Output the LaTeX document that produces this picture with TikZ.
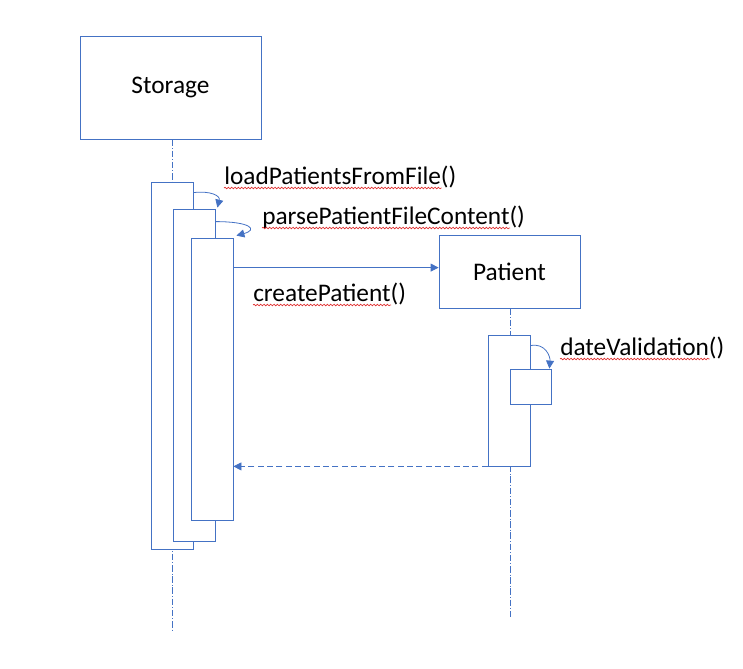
\documentclass[tikz,border=0pt]{standalone}
\usepackage{fontspec}
\setmainfont{Carlito}
\usetikzlibrary{arrows.meta,calc,decorations.pathmorphing}
\definecolor{lineblue}{HTML}{4472C4}
\definecolor{spellred}{HTML}{E03030}
\begin{document}
\begin{tikzpicture}[x=0.75pt,y=-0.75pt,
  objbox/.style={draw=lineblue,line width=0.6pt,fill=white,inner sep=0pt,font=\fontsize{19pt}{22pt}\selectfont},
  actbox/.style={draw=lineblue,line width=0.6pt,fill=white,inner sep=0pt,minimum width=31.5pt},
  lifeline/.style={draw=lineblue,line width=0.6pt,dash pattern=on 5pt off 1.5pt on 0.4pt off 1.5pt},
  msg/.style={draw=lineblue,line width=0.6pt,-{Triangle[length=6pt,width=6pt]}},
  retmsg/.style={msg,dash pattern=on 4.5pt off 2.5pt},
  lbl/.style={anchor=base west,inner sep=0pt,font=\fontsize{19pt}{22pt}\selectfont},
  spell/.style={draw=spellred,line width=0.5pt,decorate,decoration={snake,amplitude=0.6pt,segment length=2.5pt}}]
\useasboundingbox (0,0) rectangle (743,668);
% objects
\node[objbox,minimum width=135.75pt,minimum height=77.25pt] (storage) at (170.5,87.5) {Storage};
\node[objbox,minimum width=105.75pt,minimum height=54.75pt] (patient) at (509.5,271.5) {Patient};
% lifelines
\coordinate (sEnd) at (172,630);
\coordinate (pEnd) at (510,618);
\draw[lifeline] (storage.south -| sEnd) -- (sEnd);
\draw[lifeline] (patient.south -| pEnd) -- (pEnd);
% activations
\node[actbox,minimum height=275.25pt] (act1) at (172,365.5) {};
\node[actbox,minimum height=249pt] (act2) at (194,375) {};
\node[actbox,minimum height=211.5pt] (act3) at (212,379) {};
\node[actbox,minimum height=98.25pt] (actP) at (509,400.5) {};
\node[actbox,minimum width=30.75pt,minimum height=26.25pt] (actP2) at (530.5,386.5) {};
% self calls
\draw[msg] ($(act1.north east)+(0,11)$) .. controls +(17,-2) and +(3,-12) .. ($(act2.north east)+(2,-1)$);
\draw[msg] ($(act2.north east)+(0,13)$) .. controls +(35,0) and +(22,-6) .. ($(act3.north east)+(3,-2)$);
\draw[msg] ($(actP.north east)+(0,11)$) .. controls +(15,-3) and +(1,-12) .. ($(actP2.north east)+(-2,0)$);
% create message
\coordinate (cStart) at ($(act3.north east)+(0,30)$);
\draw[msg] (cStart) -- (cStart -| patient.west);
% return message
\draw[retmsg] (actP.south west) -- (actP.south west -| act3.east);
% labels
\node[lbl] (l1) at (224,184) {loadPatientsFromFile()};
\node[lbl] (l2) at (262,224) {parsePatientFileContent()};
\node[lbl] (l3) at (253,301) {createPatient()};
\node[lbl] (l4) at (560,355) {dateValidation()};
% spell-check underlines
\draw[spell] ($(l1.base west)+(0,4)$) -- ($(l1.base east)+(-15,4)$);
\draw[spell] ($(l2.base west)+(0,4)$) -- ($(l2.base east)+(-15,4)$);
\draw[spell] ($(l3.base west)+(0,4)$) -- ($(l3.base east)+(-15,4)$);
\draw[spell] ($(l4.base west)+(0,4)$) -- ($(l4.base east)+(-15,4)$);
\end{tikzpicture}
\end{document}
